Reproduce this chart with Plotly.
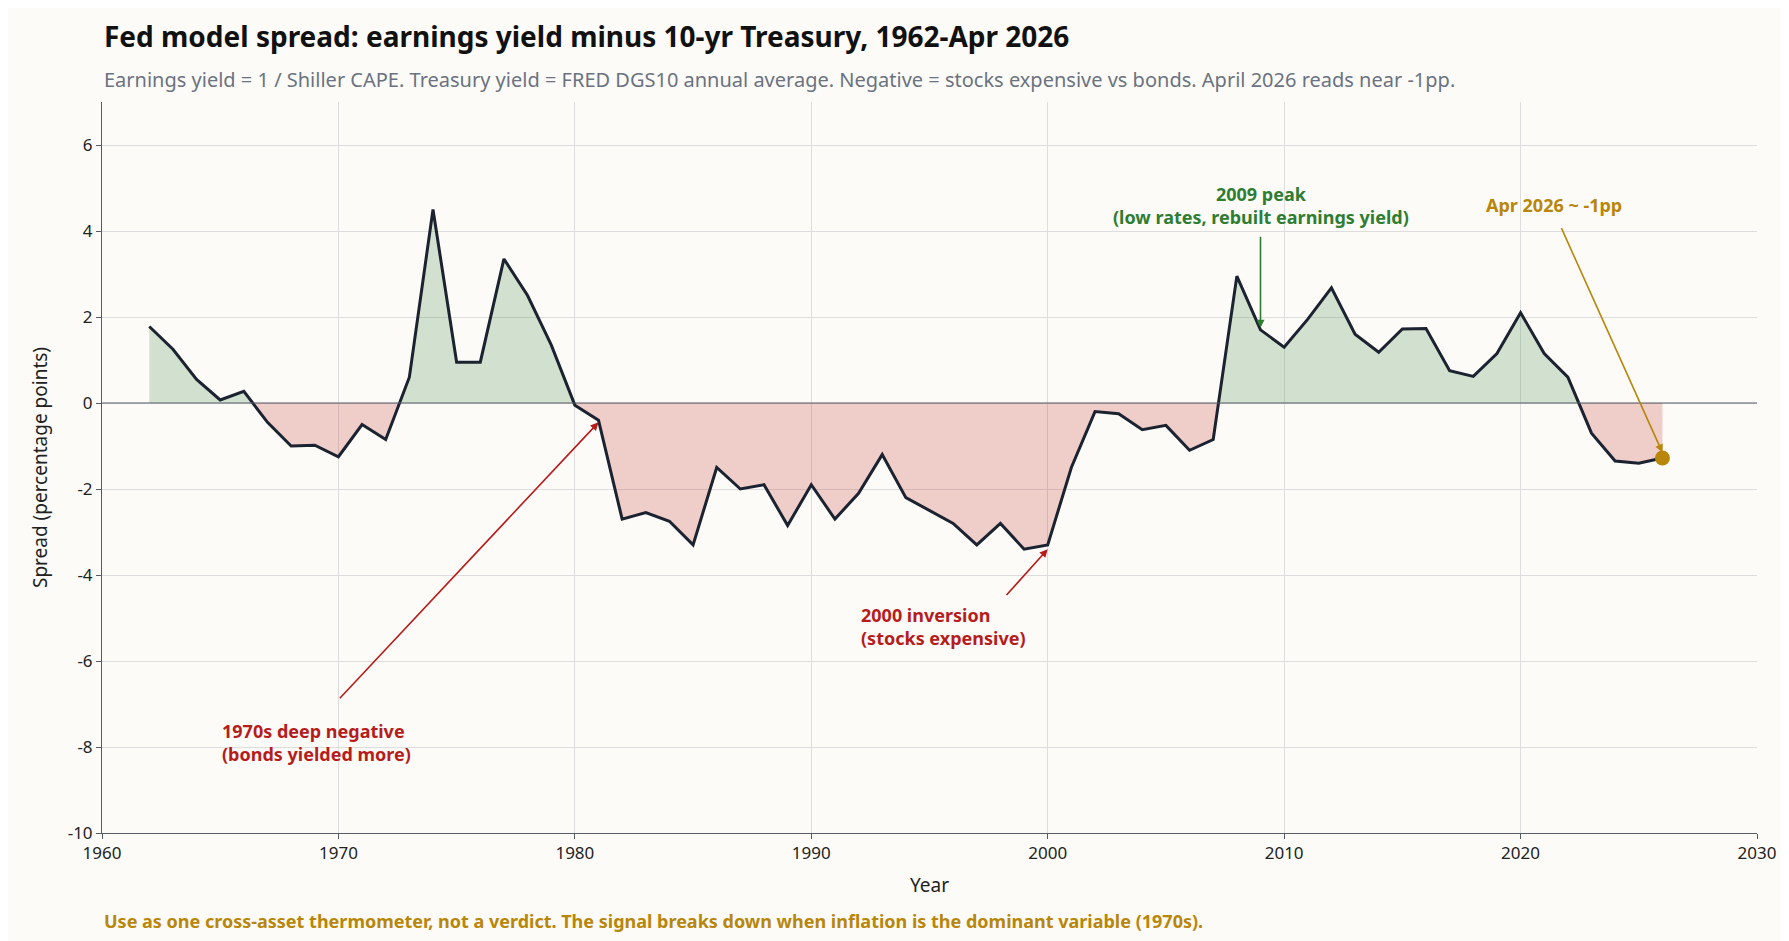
import plotly.graph_objects as go

# spread = earnings yield minus 10-yr treasury
years = list(range(1962, 2027))
spread = [1.78, 1.25, 0.55, 0.07, 0.27, -0.45, -1.0, -0.98, -1.25, -0.5,
          -0.85, 0.6, 4.5, 0.95, 0.95, 3.35, 2.5, 1.35, -0.05, -0.4,
          -2.7, -2.55, -2.75, -3.3, -1.5, -2.0, -1.9, -2.85, -1.9, -2.7,
          -2.1, -1.2, -2.2, -2.5, -2.8, -3.3, -2.8, -3.4, -3.3, -1.5,
          -0.2, -0.25, -0.62, -0.52, -1.1, -0.85, 2.95, 1.7, 1.3, 1.95,
          2.68, 1.6, 1.18, 1.72, 1.73, 0.75, 0.62, 1.15, 2.1, 1.15,
          0.6, -0.7, -1.35, -1.4, -1.28]
y_ticks = [-10, -8, -6, -4, -2, 0, 2, 4, 6]

# add zero crossings so the two fills meet cleanly
fx, fy = [], []
for i in range(len(years)):
    if i > 0 and (spread[i - 1] > 0) != (spread[i] > 0):
        a, b = spread[i - 1], spread[i]
        fx.append(years[i - 1] + a / (a - b))
        fy.append(0)
    fx.append(years[i])
    fy.append(spread[i])
pos = [max(v, 0) for v in fy]
neg = [min(v, 0) for v in fy]

FONT = "Noto Sans"
fig = go.Figure()
fig.add_trace(go.Scatter(x=fx, y=pos, fill="tozeroy", mode="none",
                         fillcolor="rgba(46,125,50,0.2)", hoverinfo="skip"))
fig.add_trace(go.Scatter(x=fx, y=neg, fill="tozeroy", mode="none",
                         fillcolor="rgba(198,40,40,0.22)", hoverinfo="skip"))
fig.add_trace(go.Scatter(x=years, y=spread, mode="lines",
                         line=dict(color="#1b2230", width=3)))
fig.add_trace(go.Scatter(x=[years[-1]], y=[spread[-1]], mode="markers",
                         marker=dict(color="#b8860b", size=15)))
fig.add_hline(y=0, line=dict(color="#555c66", width=1.2))

ann = dict(showarrow=True, arrowhead=2, arrowsize=1, arrowwidth=1.6,
           xref="x", yref="y", axref="x", ayref="y")
lab = dict(showarrow=False, align="left", xanchor="left")
fig.add_annotation(x=1981, y=-0.45, ax=1970, ay=-6.9, text="", arrowcolor="#b71c1c", **ann)
fig.add_annotation(x=1965, y=-7.9, text="<b>1970s deep negative<br>(bonds yielded more)</b>",
                   font=dict(family=FONT, size=18, color="#b71c1c"), **lab)
fig.add_annotation(x=2000, y=-3.4, ax=1998.2, ay=-4.5, text="", arrowcolor="#b71c1c", **ann)
fig.add_annotation(x=1992, y=-5.2, text="<b>2000 inversion<br>(stocks expensive)</b>",
                   font=dict(family=FONT, size=18, color="#b71c1c"), **lab)
fig.add_annotation(x=2009, y=1.75, ax=2009, ay=3.9, text="", arrowcolor="#2e7d32", **ann)
fig.add_annotation(x=2009, y=4.6, text="<b>2009 peak<br>(low rates, rebuilt earnings yield)</b>",
                   showarrow=False, align="center",
                   font=dict(family=FONT, size=18, color="#2e7d32"))
fig.add_annotation(x=2026, y=-1.15, ax=2021.7, ay=4.1, text="", arrowcolor="#b8860b", **ann)
fig.add_annotation(x=2021.4, y=4.6, text="<b>Apr 2026 ~ -1pp</b>", showarrow=False,
                   font=dict(family=FONT, size=18, color="#b8860b"))

fig.add_annotation(x=0, y=1.09, xref="paper", yref="paper", xanchor="left", yanchor="middle",
                   showarrow=False, text="<b>Fed model spread: earnings yield minus 10-yr Treasury, 1962-Apr 2026</b>",
                   font=dict(family=FONT, size=28, color="#111111"))
fig.add_annotation(x=0, y=1.031, xref="paper", yref="paper", xanchor="left", yanchor="middle",
                   showarrow=False,
                   text="Earnings yield = 1 / Shiller CAPE. Treasury yield = FRED DGS10 annual average. Negative = stocks expensive vs bonds. April 2026 reads near -1pp.",
                   font=dict(family=FONT, size=20, color="#6b7280"))
fig.add_annotation(x=0, y=-0.12, xref="paper", yref="paper", xanchor="left", yanchor="middle",
                   showarrow=False,
                   text="<b>Use as one cross-asset thermometer, not a verdict. The signal breaks down when inflation is the dominant variable (1970s).</b>",
                   font=dict(family=FONT, size=18, color="#b8860b"))

axis = dict(showgrid=True, gridcolor="#dddddd", zeroline=False, showline=True,
            linecolor="#555c66", ticks="outside", tickcolor="#555c66",
            tickfont=dict(family=FONT, size=17, color="#222"))
fig.update_xaxes(range=[1960, 2030], dtick=10, title=dict(text="Year", font=dict(family=FONT, size=19)), **axis)
fig.update_yaxes(range=[-10, 7], tickvals=y_ticks, ticktext=[str(v) for v in y_ticks],
                 title=dict(text="Spread (percentage points)", font=dict(family=FONT, size=19)), **axis)
fig.update_layout(width=1789, height=941, showlegend=False,
                  paper_bgcolor="#fcfbf7", plot_bgcolor="#fcfbf7",
                  margin=dict(l=94, r=40, t=94, b=116),
                  font=dict(family=FONT, color="#222"))
fig.write_html("out.html")
